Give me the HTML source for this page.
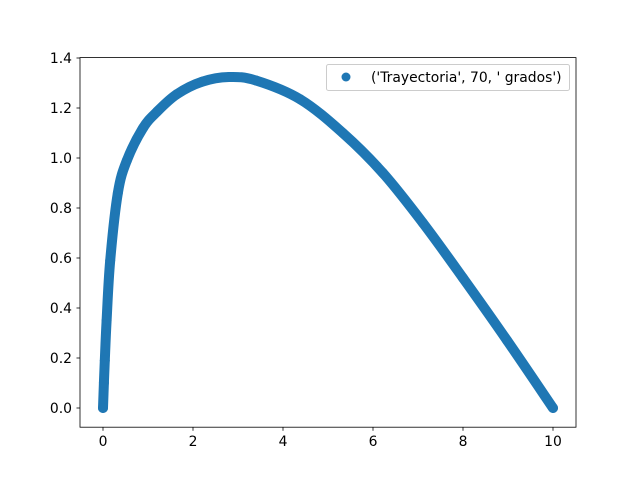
<!DOCTYPE html>
<html><head><meta charset="utf-8"><style>body{margin:0;background:#fff}svg{display:block}text{font-family:"DejaVu Sans","Liberation Sans",sans-serif;font-size:13.9px;fill:#000}</style></head>
<body>
<svg width="640" height="480" id="c">
<rect x="0" y="0" width="640" height="480" fill="#fff"/>
<g id="plot"></g>
<rect x="80" y="57.6" width="496" height="369.6" fill="none" stroke="#000" stroke-width="0.8"/>
<g id="ticks"></g>
<g>
<rect x="326.5" y="64.5" width="243" height="26" rx="2" fill="#fff" fill-opacity="0.8" stroke="#ccc"/>
<circle cx="346" cy="77" r="4.5" fill="#1f77b4"/>
<text x="371" y="82">('Trayectoria', 70, ' grados')</text>
</g>
</svg>
<script>
const xs=[0,0.02,0.04,0.08,0.16,0.33,0.53,0.89,1.2,1.64,2.2,2.8,3.4,4.38,5.33,6.22,7.11,8.0,8.98,10];
const ys=[0,0.1,0.19,0.35,0.59,0.86,0.99,1.12,1.185,1.255,1.305,1.324,1.31,1.235,1.1,0.94,0.74,0.52,0.27,0];
const xTicks=[0,2,4,6,8,10];
const yTicks=[0.0,0.2,0.4,0.6,0.8,1.0,1.2,1.4];
const X=v=>103+v*45, Y=v=>408-v*250;
const NS="http://www.w3.org/2000/svg";
const plot=document.getElementById('plot'), tk=document.getElementById('ticks');
const pl=document.createElementNS(NS,'path');


const P=xs.map((x,i)=>[X(x),Y(ys[i])]);
let d='M'+P[0][0]+','+P[0][1];
for(let i=0;i<P.length-1;i++){const p0=P[Math.max(i-1,0)],p1=P[i],p2=P[i+1],p3=P[Math.min(i+2,P.length-1)];
d+=' C'+(p1[0]+(p2[0]-p0[0])/6)+','+(p1[1]+(p2[1]-p0[1])/6)+' '+(p2[0]-(p3[0]-p1[0])/6)+','+(p2[1]-(p3[1]-p1[1])/6)+' '+p2[0]+','+p2[1];}
pl.setAttribute('d',d);
pl.setAttribute('fill','none');pl.setAttribute('stroke','#1f77b4');pl.setAttribute('stroke-width','10');pl.setAttribute('stroke-linejoin','round');pl.setAttribute('stroke-linecap','round');
plot.appendChild(pl);
xs.forEach((x,i)=>{const c=document.createElementNS(NS,'circle');


c.setAttribute('cx',X(x));c.setAttribute('cy',Y(ys[i]));c.setAttribute('r',5);c.setAttribute('fill','#1f77b4');plot.appendChild(c);});
xTicks.forEach(v=>{const l=document.createElementNS(NS,'line');


l.setAttribute('x1',X(v));l.setAttribute('x2',X(v));l.setAttribute('y1',427.2);l.setAttribute('y2',430.7);l.setAttribute('stroke','#000');l.setAttribute('stroke-width','0.8');tk.appendChild(l);
const t=document.createElementNS(NS,'text');


t.setAttribute('x',X(v));t.setAttribute('y',446);t.setAttribute('text-anchor','middle');t.textContent=v;tk.appendChild(t);});
yTicks.forEach(v=>{const l=document.createElementNS(NS,'line');


l.setAttribute('x1',76.5);l.setAttribute('x2',80);l.setAttribute('y1',Y(v));l.setAttribute('y2',Y(v));l.setAttribute('stroke','#000');l.setAttribute('stroke-width','0.8');tk.appendChild(l);
const t=document.createElementNS(NS,'text');


t.setAttribute('x',72);t.setAttribute('y',Y(v)+5);t.setAttribute('text-anchor','end');t.textContent=v.toFixed(1);tk.appendChild(t);});
</script>
</body></html>
